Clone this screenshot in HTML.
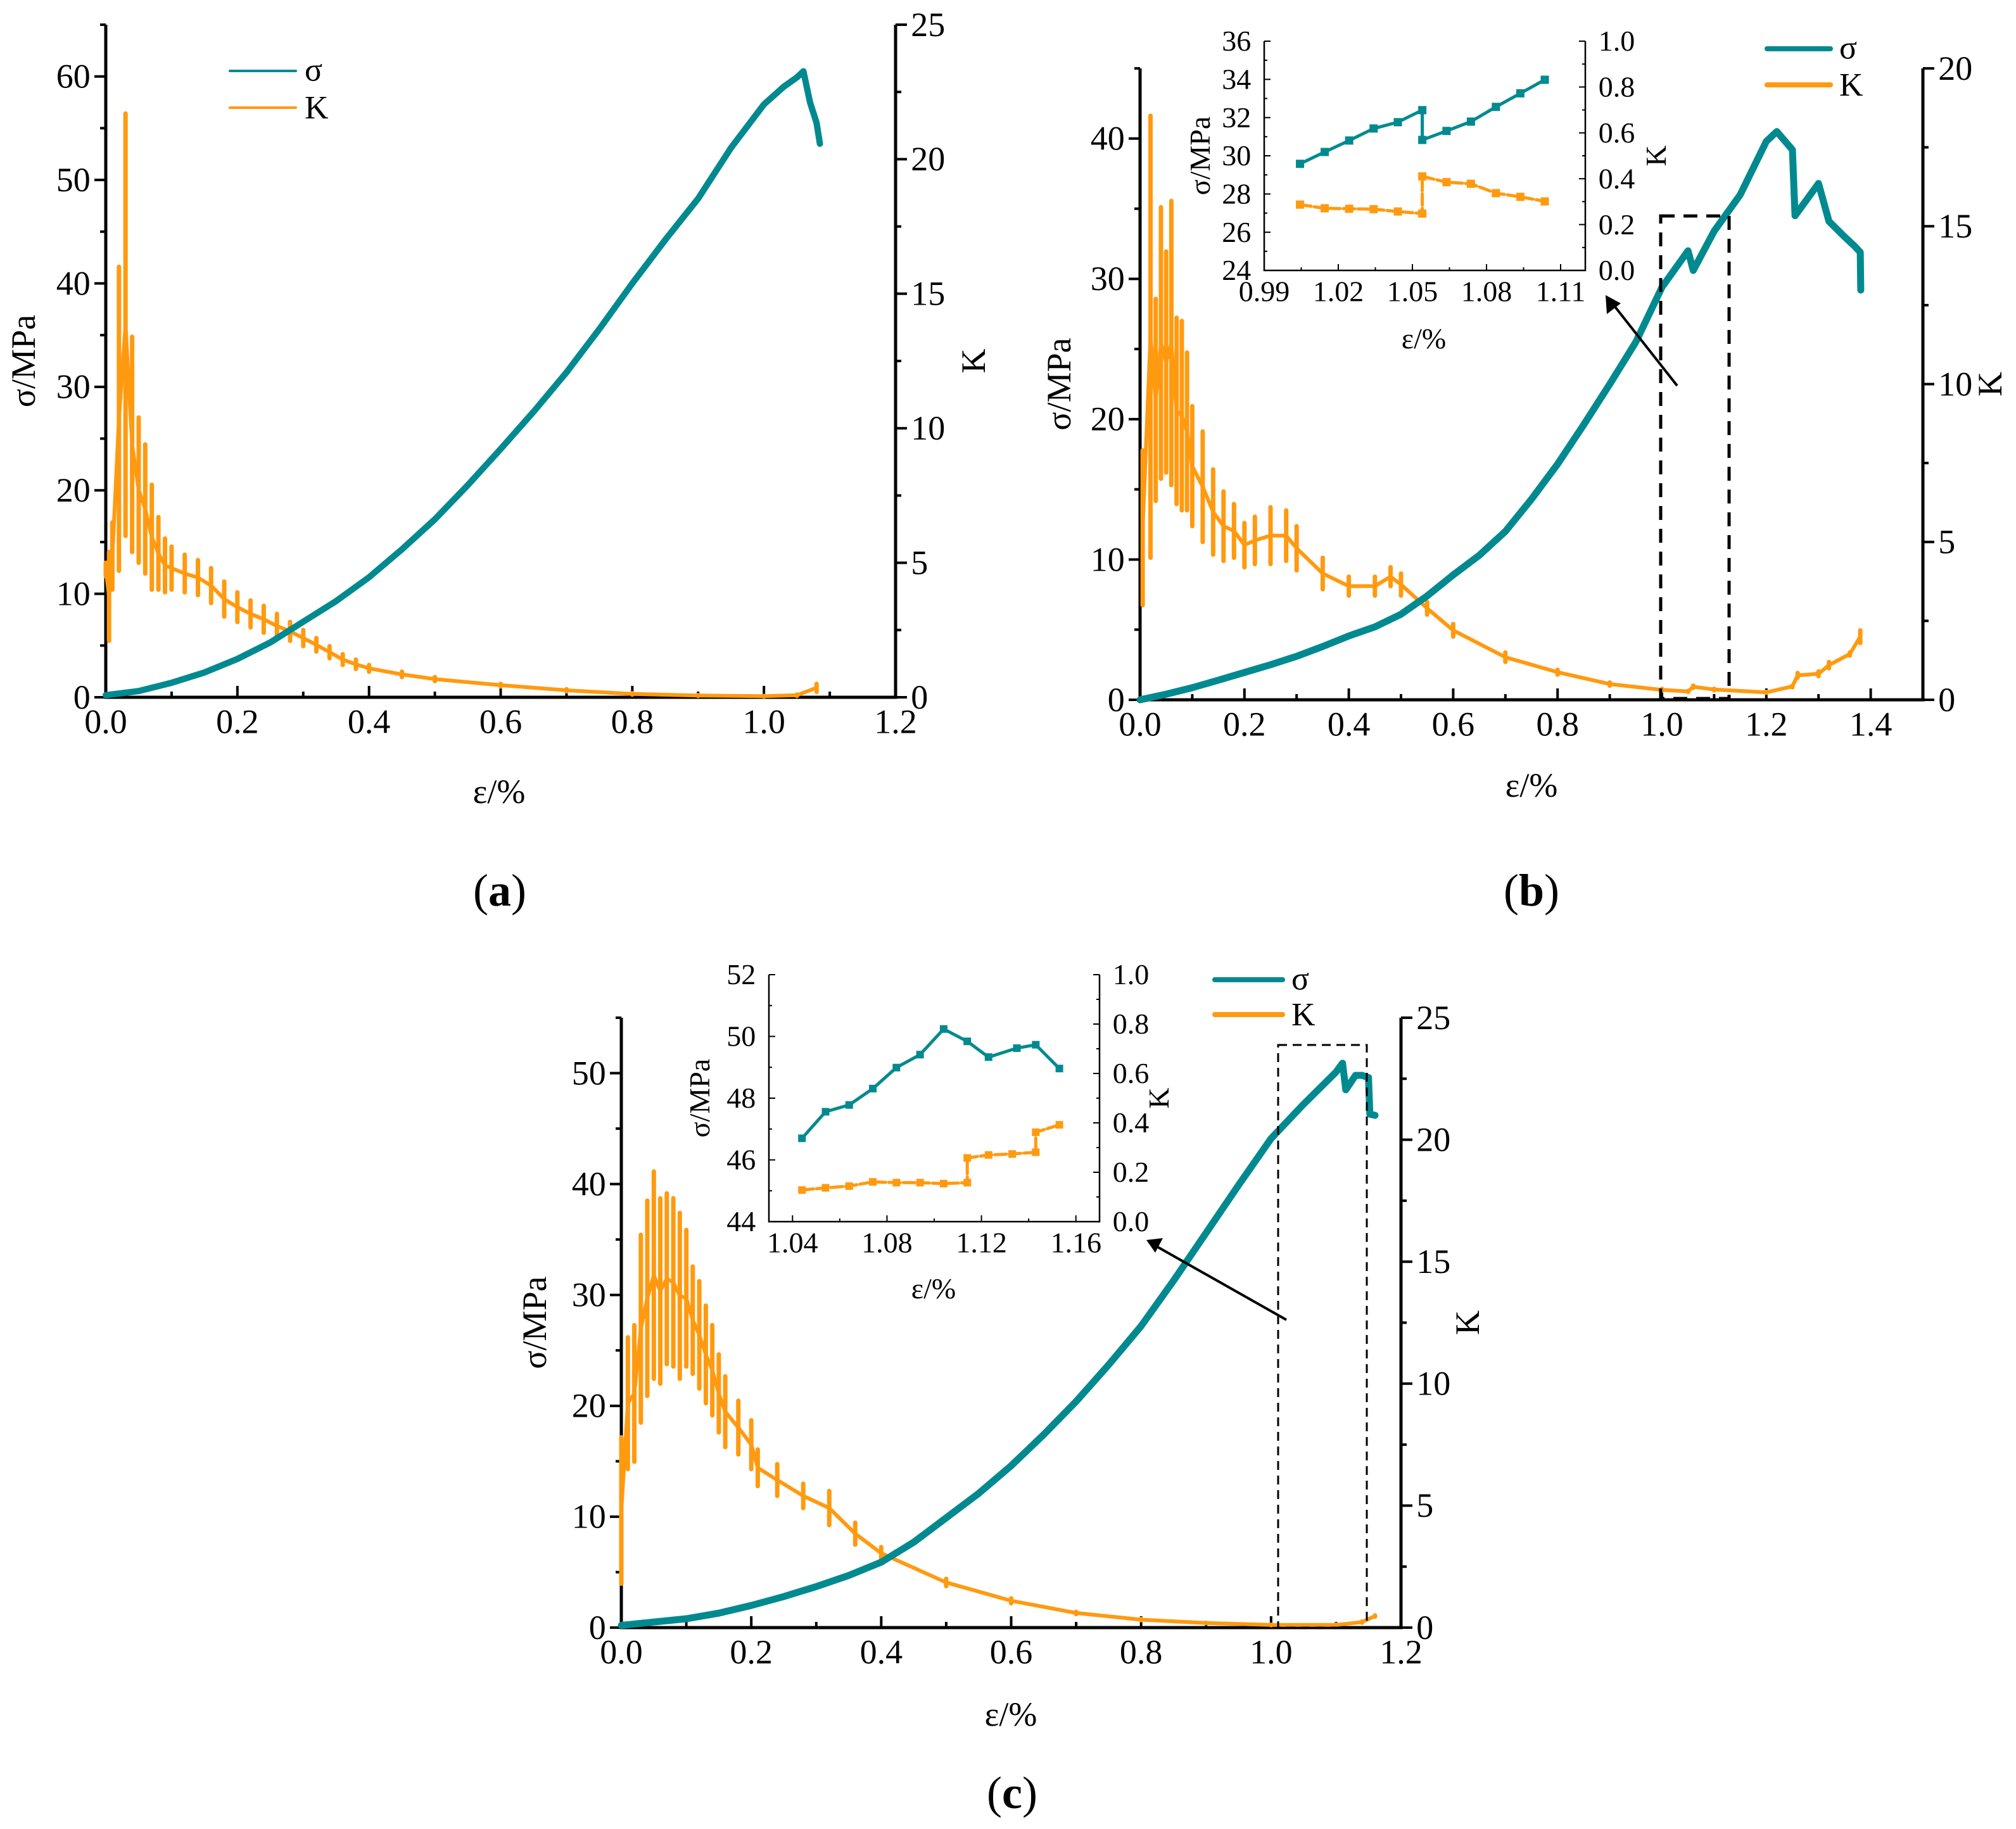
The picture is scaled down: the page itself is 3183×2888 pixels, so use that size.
<!DOCTYPE html>
<html><head><meta charset="utf-8">
<style>
html,body{margin:0;padding:0;background:#fff;}
svg{display:block;font-family:"Liberation Serif","Times New Roman",serif;}
text{font-family:"Liberation Serif","Times New Roman",serif;}
</style></head>
<body>
<svg id="fig" width="3183" height="2888" viewBox="0 0 3183 2888" xmlns="http://www.w3.org/2000/svg"></svg>
<script>
// ---------- Panel (a) data ----------
const aStrain = [0,0.05,0.1,0.15,0.2,0.25,0.3,0.35,0.4,0.45,0.5,0.55,0.6,0.65,0.7,0.75,0.8,0.85,0.9,0.95,1.0,1.03,1.05,1.06,1.065,1.07,1.08,1.085];
const aSigma  = [0.2,0.6,1.4,2.4,3.7,5.3,7.3,9.3,11.6,14.3,17.2,20.5,24,27.6,31.4,35.6,40,44.2,48.2,53.1,57.3,59,59.9,60.5,59,57.5,55.5,53.5];
const aKStrain= [0,0.005,0.01,0.02,0.03,0.04,0.05,0.06,0.07,0.08,0.09,0.1,0.12,0.14,0.16,0.18,0.2,0.22,0.24,0.26,0.28,0.3,0.32,0.34,0.36,0.38,0.4,0.45,0.5,0.6,0.7,0.8,0.9,1.0,1.05,1.08];
const aKMax   = [5,5.4,6.5,16,21.7,13.4,10.4,9.4,7.9,6.7,5.9,5.6,5.3,5.1,4.8,4.3,3.9,3.6,3.4,3.1,2.8,2.5,2.2,1.9,1.6,1.4,1.2,0.95,0.75,0.5,0.3,0.15,0.08,0.05,0.1,0.5];
const aKMin   = [4.5,2.1,4,4.7,6,5.4,5,4.6,4,4,3.9,4,3.9,3.8,3.5,3.0,2.8,2.6,2.4,2.2,2.1,1.9,1.7,1.45,1.2,1.05,0.95,0.75,0.6,0.4,0.22,0.1,0.05,0.03,0.05,0.2];
// ---------- Panel (b) data ----------
const bStrain = [0,0.05,0.1,0.15,0.2,0.25,0.3,0.35,0.4,0.45,0.5,0.55,0.6,0.65,0.7,0.75,0.8,0.85,0.9,0.95,1.0,1.05,1.06,1.1,1.15,1.2,1.22,1.25,1.255,1.3,1.32,1.35,1.37,1.38,1.381];
const bSigma  = [0,0.4,0.86,1.4,1.95,2.5,3.1,3.8,4.55,5.2,6.1,7.4,8.9,10.3,12,14.3,16.8,19.6,22.5,25.5,29.4,32,30.6,33.4,36,39.8,40.5,39.2,34.5,36.8,34.1,33,32.3,31.9,29.2];
const bKStrain= [0.005,0.02,0.03,0.04,0.05,0.06,0.07,0.08,0.09,0.1,0.12,0.14,0.16,0.18,0.2,0.22,0.25,0.28,0.3,0.35,0.4,0.45,0.48,0.5,0.55,0.6,0.7,0.8,0.9,1.0,1.05,1.06,1.1,1.2,1.25,1.26,1.3,1.32,1.36,1.38];
const bKMax   = [7.9,18.5,12.7,15.6,14.2,15.8,12.1,12.0,11.0,9.3,8.5,7.3,6.6,6.2,5.6,5.8,6.1,6.0,5.5,4.5,3.9,3.9,4.2,4.0,3.1,2.4,1.5,0.95,0.55,0.35,0.28,0.45,0.35,0.25,0.45,0.85,0.9,1.2,1.5,2.2];
const bKMin   = [3,4.5,6.3,7.0,7.2,6.8,6.2,6.0,6.0,5.5,5.0,4.6,4.4,4.5,4.2,4.3,4.3,4.4,4.1,3.5,3.3,3.3,3.6,3.3,2.7,2.0,1.2,0.8,0.45,0.28,0.25,0.38,0.3,0.22,0.4,0.7,0.75,1.0,1.4,1.8];
const bInStrain=[1.0045,1.0145,1.0244,1.0343,1.0441,1.054,1.054,1.0638,1.0737,1.0838,1.0937,1.1036];
const bInSigma =[29.58,30.2,30.8,31.43,31.76,32.39,30.83,31.3,31.79,32.56,33.27,33.98];
const bInKStrain=[1.0045,1.0145,1.0244,1.0343,1.0441,1.054,1.054,1.0638,1.0737,1.0838,1.0937,1.1036];
const bInK     =[0.287,0.271,0.269,0.267,0.257,0.248,0.41,0.385,0.378,0.337,0.321,0.301];
// ---------- Panel (c) data ----------
const cStrain = [0,0.05,0.1,0.15,0.2,0.25,0.3,0.35,0.4,0.45,0.5,0.55,0.6,0.65,0.7,0.75,0.8,0.85,0.9,0.95,1.0,1.05,1.1,1.11,1.115,1.13,1.14,1.15,1.152,1.16];
const cSigma  = [0.2,0.5,0.8,1.3,2.0,2.8,3.7,4.7,5.9,7.7,9.9,12.1,14.6,17.4,20.4,23.7,27.2,31.3,35.6,39.9,44.1,47.2,50.1,50.9,48.5,49.8,49.8,49.6,46.3,46.2];
const cKStrain= [0,0.01,0.02,0.03,0.04,0.05,0.06,0.07,0.08,0.09,0.1,0.11,0.12,0.13,0.14,0.15,0.16,0.18,0.2,0.21,0.24,0.28,0.32,0.36,0.4,0.5,0.6,0.7,0.8,0.9,1.0,1.1,1.14,1.16];
const cKMax   = [7.8,11.9,12.4,16.1,17.5,18.7,17.6,17.8,17.6,17.0,16.3,14.8,14.2,13.2,12.4,11.2,10.3,9.3,8.5,7.3,6.7,5.9,5.6,4.3,3.3,2.0,1.2,0.65,0.35,0.2,0.12,0.12,0.25,0.5];
const cKMin   = [1.8,6.5,6.8,8.4,9.5,10.2,10.0,10.8,10.7,10.2,10.7,10.4,9.8,9.2,8.7,8.0,7.4,7.1,6.5,5.8,5.4,4.9,4.2,3.4,2.8,1.7,1.0,0.55,0.3,0.18,0.1,0.1,0.2,0.45];
const cInStrain=[1.044,1.054,1.064,1.074,1.084,1.094,1.104,1.114,1.123,1.135,1.143,1.153];
const cInSigma =[46.7,47.56,47.78,48.31,48.99,49.41,50.24,49.84,49.33,49.62,49.73,48.96];
const cInKStrain=[1.044,1.054,1.064,1.074,1.084,1.094,1.104,1.114,1.114,1.123,1.133,1.143,1.143,1.153];
const cInK     =[0.128,0.137,0.144,0.161,0.158,0.158,0.154,0.158,0.258,0.27,0.274,0.281,0.362,0.392];
// tick labels
const aXTicks=["0.0","0.2","0.4","0.6","0.8","1.0","1.2"];
const aYTicks=["0","10","20","30","40","50","60"];
const aKTicks=["0","5","10","15","20","25"];
const bXTicks=["0.0","0.2","0.4","0.6","0.8","1.0","1.2","1.4"];
const bYTicks=["0","10","20","30","40"];
const bKTicks=["0","5","10","15","20"];
const cXTicks=["0.0","0.2","0.4","0.6","0.8","1.0","1.2"];
const cYTicks=["0","10","20","30","40","50"];
const cKTicks=["0","5","10","15","20","25"];
const bInXTicks=["0.99","1.02","1.05","1.08","1.11"];
const bInYTicks=["24","26","28","30","32","34","36"];
const bInKTicks=["0.0","0.2","0.4","0.6","0.8","1.0"];
const cInXTicks=["1.04","1.08","1.12","1.16"];
const cInYTicks=["44","46","48","50","52"];
const cInKTicks=["0.0","0.2","0.4","0.6","0.8","1.0"];

const TEAL="#008a90", ORANGE="#ff9a10";
const NS="http://www.w3.org/2000/svg";
const svg=document.getElementById('fig');
function mk(tag,attrs,parent){const e=document.createElementNS(NS,tag);for(const k in attrs)e.setAttribute(k,attrs[k]);(parent||svg).appendChild(e);return e;}
function txt(s,x,y,size,anchor,parent,extra){const t=mk('text',Object.assign({x:x,y:y,'font-size':size,'text-anchor':anchor||'middle',fill:'#000','font-family':'Liberation Serif, serif'},extra||{}),parent);t.textContent=s;return t;}

function axes(g,P,lw,fs,tl,minor){
  const X=v=>P.x0+(v-P.xmin)/(P.xmax-P.xmin)*(P.x1-P.x0);
  const Y=v=>P.y0-(v-P.ymin)/(P.ymax-P.ymin)*(P.y0-P.y1);
  const K=v=>P.y0-(v-P.kmin)/(P.kmax-P.kmin)*(P.y0-P.y1);
  const ax=mk('path',{d:`M${P.x0},${P.y1}V${P.y0}H${P.x1}V${P.y1}`,fill:'none',stroke:'#000','stroke-width':lw},g);
  
  P.xTicks.forEach(s=>{const v=parseFloat(s),x=X(v);
    mk('line',{x1:x,y1:P.y0,x2:x,y2:P.y0-tl*P.xdir,stroke:'#000','stroke-width':lw*0.8},g);
    const t=txt(s,x,P.y0+fs*1.05,fs,'middle',g);});
  if(minor){P.xTicks.slice(0,-1).forEach((s,i)=>{const v=(parseFloat(s)+parseFloat(P.xTicks[i+1]))/2,x=X(v);
    mk('line',{x1:x,y1:P.y0,x2:x,y2:P.y0-tl*0.5*P.xdir,stroke:'#000','stroke-width':lw*0.8},g);});}
  P.yTicks.forEach((s,i)=>{const v=parseFloat(s),y=Y(v);
    mk('line',{x1:P.x0,y1:y,x2:P.x0-tl*P.ydir,y2:y,stroke:'#000','stroke-width':lw*0.8},g);
    const t=txt(s,P.x0-fs*0.45,y+fs*0.33,fs,'end',g);
    if(minor){const ym=Y(v+(parseFloat(P.yTicks[1])-parseFloat(P.yTicks[0]))/2);if(ym>=P.y1-1)mk('line',{x1:P.x0,y1:ym,x2:P.x0-tl*0.5*P.ydir,y2:ym,stroke:'#000','stroke-width':lw*0.8},g);}});
  P.kTicks.forEach((s,i)=>{const v=parseFloat(s),y=K(v);
    mk('line',{x1:P.x1,y1:y,x2:P.x1+tl*P.ydir,y2:y,stroke:'#000','stroke-width':lw*0.8},g);
    const t=txt(s,P.x1+fs*0.45,y+fs*0.33,fs,'start',g);
    if(minor&&i<P.kTicks.length-1){const ym=K(v+(parseFloat(P.kTicks[1])-parseFloat(P.kTicks[0]))/2);mk('line',{x1:P.x1,y1:ym,x2:P.x1+tl*0.5*P.ydir,y2:ym,stroke:'#000','stroke-width':lw*0.8},g);}});
  return {X,Y,K};
}
function line(g,S,xs,ys,f,color,w){let d='';xs.forEach((v,i)=>{d+=(i?'L':'M')+S.X(v).toFixed(1)+','+f(ys[i]).toFixed(1);});
  return mk('path',{d:d,fill:'none',stroke:color,'stroke-width':w,'stroke-linejoin':'round','stroke-linecap':'round'},g);}
function zig(g,S,xs,mx,mn,w){
  let bars='',mid='';
  xs.forEach((v,i)=>{const x=S.X(v).toFixed(1);
    bars+='M'+x+','+S.K(mn[i]).toFixed(1)+'L'+x+','+S.K(mx[i]).toFixed(1);
    mid+=(i?'L':'M')+x+','+S.K((mx[i]+mn[i])/2).toFixed(1);});
  const grp=mk('g',{},g);
  mk('path',{d:bars,fill:'none',stroke:ORANGE,'stroke-width':w+1,'stroke-linecap':'round'},grp);
  mk('path',{d:mid,fill:'none',stroke:ORANGE,'stroke-width':w,'stroke-linejoin':'round'},grp);
  return grp;}
function markers(g,S,xs,ys,f,color,sz){xs.forEach((v,i)=>{const r=mk('rect',{x:S.X(v)-sz/2,y:f(ys[i])-sz/2,width:sz,height:sz,fill:color},g);
  });}
function legend(g,x,y1,y2,w,fs,lw){
  const l1=mk('line',{x1:x,y1:y1,x2:x+w,y2:y1,stroke:TEAL,'stroke-width':lw,'stroke-linecap':'round'},g);
  
  const t1=txt('σ',x+w+14,y1+fs*0.3,fs,'start',g);
  const l2=mk('line',{x1:x,y1:y2,x2:x+w,y2:y2,stroke:ORANGE,'stroke-width':lw,'stroke-linecap':'round'},g);
  
  const t2=txt('K',x+w+14,y2+fs*0.33,fs,'start',g);
}
function titles(g,P,fs,cx,ly,rx,lx){
  const tx=txt('ε/%',cx,ly,fs,'middle',g);
  const my=(P.y0+P.y1)/2;
  const ty=txt('σ/MPa',0,0,fs,'middle',g,{transform:`translate(${lx},${my}) rotate(-90)`});
  const tk=txt('K',0,0,fs,'middle',g,{transform:`translate(${rx},${my}) rotate(-90)`});
}
function plabel(s,x,y){const t=mk('text',{x:x,y:y,'font-size':72,'text-anchor':'middle','font-family':'Liberation Serif, serif'});
  t.innerHTML='('+'<tspan font-weight="bold">'+s+'</tspan>'+')';}

// ===== Panel A =====
const gA=mk('g',{});
const PA={x0:167,x1:1414,y0:1101,y1:39,xmin:0,xmax:1.2,ymin:0,ymax:65,kmin:0,kmax:25,xTicks:aXTicks,yTicks:aYTicks,kTicks:aKTicks,xdir:1,ydir:1};
const SA=axes(gA,PA,5,54,18,true);
const aK=zig(gA,SA,aKStrain,aKMax,aKMin,6);
const aS=line(gA,SA,aStrain,aSigma,SA.Y,TEAL,10);
legend(gA,363,112,170,104,52,4);
titles(gA,PA,54,788,1268,1555,55);
plabel('a',789,1430);

// ===== Panel B =====
const gB=mk('g',{});
const PB={x0:1800,x1:3036,y0:1105,y1:108,xmin:0,xmax:1.5,ymin:0,ymax:45,kmin:0,kmax:20,xTicks:bXTicks,yTicks:bYTicks,kTicks:bKTicks,xdir:1,ydir:1};
const SB=axes(gB,PB,5,54,18,true);
const bK=zig(gB,SB,bKStrain,bKMax,bKMin,6);
const bS=line(gB,SB,bStrain,bSigma,SB.Y,TEAL,11);
legend(gB,2790,77,134,100,52,8);
titles(gB,PB,54,2418,1258,3160,1690);
plabel('b',2418,1430);
const rb=mk('rect',{x:2622,y:341,width:108,height:762,fill:'none',stroke:'#000','stroke-width':5,'stroke-dasharray':'22,14'},gB);

const ab=mk('line',{x1:2648,y1:609,x2:2548,y2:482,stroke:'#000','stroke-width':4},gB);
const abh=mk('path',{d:'M2535,466 L2537,496 L2559,479 Z',fill:'#000'},gB);
const gBi=mk('g',{},gB);
const PBi={x0:1996,x1:2503,y0:427,y1:65,xmin:0.99,xmax:1.12,ymin:24,ymax:36,kmin:0,kmax:1,xTicks:bInXTicks,yTicks:bInYTicks,kTicks:bInKTicks,xdir:1,ydir:-1};
const SBi=axes(gBi,PBi,2.5,46,10,true);
const bil=line(gBi,SBi,bInStrain,bInSigma,SBi.Y,TEAL,5);
markers(gBi,SBi,bInStrain,bInSigma,SBi.Y,TEAL,13);
const bik=line(gBi,SBi,bInKStrain,bInK,SBi.K,ORANGE,5);bik.setAttribute('stroke-dasharray','18,5');
markers(gBi,SBi,bInKStrain,bInK,SBi.K,ORANGE,13);
titles(gBi,PBi,46,2248,550,2630,1910);

// ===== Panel C =====
const gC=mk('g',{});
const PC={x0:981,x1:2212,y0:2570,y1:1607,xmin:0,xmax:1.2,ymin:0,ymax:55,kmin:0,kmax:25,xTicks:cXTicks,yTicks:cYTicks,kTicks:cKTicks,xdir:1,ydir:1};
const SC=axes(gC,PC,5,54,18,true);
const cK=zig(gC,SC,cKStrain,cKMax,cKMin,6);
const cS=line(gC,SC,cStrain,cSigma,SC.Y,TEAL,11);
legend(gC,1918,1547,1602,107,52,8);
titles(gC,PC,54,1596,2725,2335,862);
plabel('c',1598,2855);
const rc=mk('rect',{x:2018,y:1650,width:140,height:920,fill:'none',stroke:'#000','stroke-width':3,'stroke-dasharray':'14,9'},gC);

const ac=mk('line',{x1:2031,y1:2084,x2:1826,y2:1968,stroke:'#000','stroke-width':4},gC);
const ach=mk('path',{d:'M1810,1958 L1836,1955 L1824,1978 Z',fill:'#000'},gC);
const gCi=mk('g',{},gC);
const PCi={x0:1214,x1:1736,y0:1929,y1:1539,xmin:1.03,xmax:1.17,ymin:44,ymax:52,kmin:0,kmax:1,xTicks:cInXTicks,yTicks:cInYTicks,kTicks:cInKTicks,xdir:1,ydir:-1};
const SCi=axes(gCi,PCi,2.5,46,10,true);
const cil=line(gCi,SCi,cInStrain,cInSigma,SCi.Y,TEAL,5);
markers(gCi,SCi,cInStrain,cInSigma,SCi.Y,TEAL,12);
const cik=line(gCi,SCi,cInKStrain,cInK,SCi.K,ORANGE,5);cik.setAttribute('stroke-dasharray','18,5');
markers(gCi,SCi,cInKStrain,cInK,SCi.K,ORANGE,12);
titles(gCi,PCi,46,1474,2050,1845,1120);
</script>
</body></html>
